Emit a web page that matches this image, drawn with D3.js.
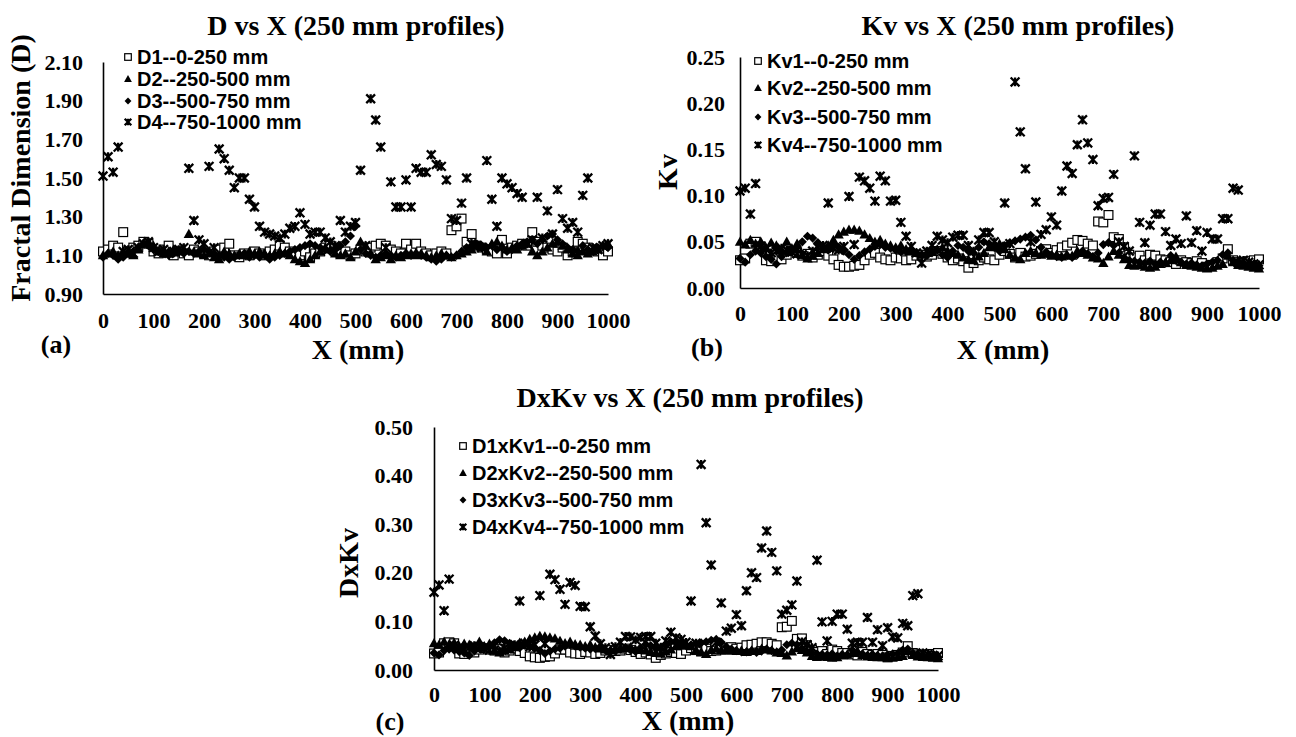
<!DOCTYPE html>
<html><head><meta charset="utf-8">
<script src="https://cdn.jsdelivr.net/npm/d3@7"></script>
<style>body{margin:0;background:#fff}svg{display:block}</style>
</head><body>
<svg id="chart" width="1296" height="737"></svg>
<script>
const xValues = [0,10,20,30,40,50,60,70,80,90,100,110,120,130,140,150,160,170,180,190,200,210,220,230,240,250,260,270,280,290,300,310,320,330,340,350,360,370,380,390,400,410,420,430,440,450,460,470,480,490,500,510,520,530,540,550,560,570,580,590,600,610,620,630,640,650,660,670,680,690,700,710,720,730,740,750,760,770,780,790,800,810,820,830,840,850,860,870,880,890,900,910,920,930,940,950,960,970,980,990,1000];
const xTicks = [0,100,200,300,400,500,600,700,800,900,1000];

// Panel (a) Fractal dimension
const D1 = [1.12,1.13,1.15,1.14,1.22,1.12,1.14,1.15,1.17,1.16,1.12,1.11,1.13,1.15,1.10,1.12,1.11,1.10,1.13,1.12,1.11,1.10,1.12,1.13,1.14,1.16,1.10,1.09,1.11,1.10,1.12,1.11,1.10,1.12,1.13,1.15,1.14,1.12,1.11,1.10,1.12,1.09,1.11,1.12,1.14,1.15,1.12,1.11,1.12,1.10,1.11,1.13,1.12,1.14,1.15,1.16,1.15,1.13,1.12,1.11,1.16,1.13,1.16,1.12,1.11,1.10,1.11,1.12,1.11,1.23,1.25,1.29,1.17,1.21,1.15,1.14,1.13,1.12,1.11,1.18,1.11,1.14,1.15,1.16,1.15,1.22,1.17,1.15,1.14,1.13,1.12,1.14,1.10,1.12,1.17,1.16,1.14,1.13,1.12,1.10,1.12];
const D2 = [1.10,1.11,1.12,1.10,1.12,1.11,1.10,1.13,1.16,1.17,1.15,1.12,1.11,1.12,1.13,1.12,1.13,1.21,1.12,1.11,1.10,1.11,1.09,1.08,1.12,1.11,1.10,1.11,1.10,1.12,1.11,1.12,1.11,1.10,1.11,1.12,1.11,1.10,1.08,1.07,1.06,1.08,1.10,1.12,1.14,1.13,1.11,1.10,1.11,1.09,1.12,1.17,1.15,1.11,1.08,1.09,1.10,1.08,1.10,1.09,1.10,1.11,1.10,1.11,1.10,1.09,1.10,1.11,1.10,1.09,1.10,1.11,1.12,1.13,1.15,1.14,1.12,1.16,1.17,1.15,1.13,1.14,1.13,1.15,1.16,1.12,1.10,1.12,1.14,1.16,1.17,1.15,1.13,1.11,1.10,1.12,1.11,1.12,1.13,1.15,1.16];
const D3 = [1.09,1.11,1.10,1.08,1.09,1.11,1.12,1.14,1.16,1.15,1.13,1.12,1.11,1.10,1.11,1.12,1.11,1.12,1.11,1.12,1.13,1.12,1.11,1.10,1.09,1.08,1.09,1.10,1.11,1.09,1.10,1.09,1.10,1.08,1.09,1.10,1.11,1.12,1.13,1.14,1.15,1.16,1.15,1.14,1.13,1.12,1.13,1.15,1.17,1.20,1.25,1.13,1.11,1.10,1.09,1.10,1.11,1.10,1.09,1.10,1.11,1.10,1.11,1.10,1.09,1.08,1.07,1.08,1.10,1.09,1.10,1.12,1.14,1.15,1.16,1.15,1.14,1.15,1.13,1.14,1.12,1.13,1.15,1.16,1.17,1.18,1.16,1.18,1.20,1.21,1.18,1.16,1.14,1.13,1.12,1.15,1.13,1.12,1.14,1.15,1.14];
const D4 = [1.51,1.61,1.53,1.66,1.12,1.13,1.11,1.14,1.16,1.17,1.14,1.12,1.13,1.11,1.12,1.13,1.14,1.55,1.28,1.18,1.16,1.56,1.14,1.65,1.60,1.54,1.45,1.50,1.50,1.39,1.35,1.25,1.22,1.21,1.20,1.19,1.21,1.24,1.25,1.32,1.26,1.21,1.22,1.22,1.19,1.17,1.15,1.28,1.22,1.25,1.27,1.54,1.15,1.91,1.80,1.66,1.14,1.48,1.35,1.35,1.49,1.35,1.55,1.53,1.53,1.62,1.57,1.56,1.49,1.29,1.28,1.37,1.50,1.16,1.15,1.14,1.59,1.39,1.25,1.50,1.47,1.45,1.42,1.40,1.16,1.18,1.40,1.19,1.33,1.21,1.44,1.29,1.24,1.27,1.22,1.41,1.50,1.14,1.13,1.15,1.16];
const dTicks = [0.90,1.10,1.30,1.50,1.70,1.90,2.10];

// Panel (b) Kv
const Kv1 = [0.030,0.032,0.048,0.050,0.045,0.030,0.029,0.033,0.031,0.036,0.040,0.038,0.035,0.037,0.033,0.036,0.040,0.035,0.031,0.025,0.023,0.023,0.024,0.025,0.030,0.036,0.038,0.033,0.031,0.030,0.033,0.032,0.030,0.031,0.035,0.036,0.034,0.036,0.040,0.037,0.033,0.030,0.032,0.029,0.022,0.027,0.030,0.033,0.031,0.030,0.036,0.040,0.037,0.033,0.038,0.034,0.035,0.037,0.040,0.042,0.038,0.041,0.044,0.046,0.049,0.052,0.051,0.048,0.046,0.072,0.071,0.079,0.055,0.053,0.044,0.036,0.033,0.035,0.030,0.036,0.035,0.031,0.030,0.028,0.026,0.030,0.028,0.027,0.029,0.027,0.023,0.025,0.028,0.032,0.042,0.030,0.028,0.027,0.029,0.030,0.031];
const Kv2 = [0.050,0.047,0.052,0.048,0.050,0.044,0.049,0.046,0.041,0.050,0.043,0.048,0.036,0.032,0.035,0.038,0.042,0.046,0.052,0.058,0.061,0.063,0.063,0.062,0.058,0.054,0.050,0.052,0.048,0.046,0.044,0.046,0.042,0.040,0.038,0.036,0.038,0.040,0.042,0.044,0.040,0.038,0.036,0.033,0.031,0.030,0.034,0.038,0.044,0.046,0.048,0.042,0.036,0.033,0.031,0.038,0.040,0.038,0.036,0.037,0.035,0.036,0.034,0.036,0.035,0.040,0.038,0.036,0.033,0.032,0.027,0.034,0.040,0.036,0.031,0.025,0.024,0.025,0.023,0.022,0.023,0.026,0.028,0.030,0.034,0.028,0.025,0.024,0.023,0.022,0.021,0.022,0.024,0.026,0.035,0.028,0.025,0.024,0.023,0.022,0.021];
const Kv3 = [0.032,0.028,0.036,0.040,0.038,0.034,0.031,0.026,0.034,0.038,0.040,0.044,0.050,0.056,0.054,0.049,0.045,0.041,0.046,0.044,0.040,0.036,0.031,0.035,0.039,0.042,0.045,0.047,0.044,0.043,0.041,0.039,0.040,0.042,0.038,0.036,0.035,0.038,0.041,0.036,0.033,0.040,0.046,0.044,0.040,0.038,0.044,0.050,0.048,0.044,0.040,0.046,0.049,0.051,0.053,0.055,0.057,0.052,0.044,0.039,0.036,0.034,0.033,0.035,0.033,0.036,0.040,0.037,0.034,0.038,0.047,0.049,0.046,0.038,0.033,0.030,0.029,0.028,0.027,0.029,0.026,0.028,0.027,0.035,0.030,0.028,0.026,0.027,0.025,0.024,0.026,0.028,0.030,0.036,0.038,0.030,0.029,0.027,0.026,0.025,0.024];
const Kv4 = [0.105,0.108,0.080,0.113,0.045,0.042,0.038,0.040,0.043,0.041,0.039,0.037,0.036,0.035,0.040,0.044,0.046,0.092,0.043,0.041,0.045,0.099,0.047,0.120,0.116,0.108,0.094,0.121,0.116,0.094,0.095,0.071,0.056,0.045,0.038,0.027,0.040,0.046,0.056,0.052,0.049,0.055,0.057,0.057,0.046,0.040,0.052,0.060,0.060,0.050,0.045,0.092,0.048,0.223,0.169,0.129,0.050,0.093,0.058,0.063,0.077,0.068,0.105,0.132,0.124,0.155,0.182,0.157,0.139,0.089,0.097,0.098,0.123,0.050,0.045,0.040,0.143,0.071,0.049,0.068,0.080,0.080,0.061,0.046,0.053,0.048,0.078,0.049,0.062,0.040,0.060,0.053,0.053,0.075,0.075,0.108,0.106,0.030,0.028,0.026,0.025];
const kvTicks = [0.00,0.05,0.10,0.15,0.20,0.25];

// Panel (c) D x Kv
const DK1 = [0.034,0.036,0.055,0.057,0.055,0.034,0.033,0.038,0.036,0.042,0.045,0.042,0.040,0.043,0.036,0.040,0.044,0.039,0.035,0.028,0.026,0.025,0.027,0.028,0.034,0.042,0.042,0.036,0.034,0.033,0.037,0.036,0.033,0.035,0.040,0.041,0.039,0.040,0.044,0.041,0.037,0.033,0.036,0.032,0.025,0.031,0.034,0.037,0.035,0.033,0.040,0.045,0.041,0.038,0.044,0.039,0.040,0.042,0.045,0.047,0.044,0.046,0.051,0.052,0.054,0.057,0.057,0.054,0.051,0.088,0.089,0.101,0.064,0.065,0.051,0.041,0.037,0.039,0.033,0.042,0.039,0.035,0.035,0.032,0.030,0.037,0.033,0.031,0.033,0.031,0.026,0.029,0.031,0.036,0.049,0.035,0.032,0.031,0.032,0.033,0.035];
const DK2 = [0.055,0.052,0.058,0.053,0.056,0.049,0.054,0.052,0.048,0.058,0.049,0.054,0.040,0.036,0.040,0.043,0.047,0.056,0.058,0.064,0.067,0.070,0.069,0.067,0.065,0.060,0.055,0.058,0.053,0.052,0.049,0.052,0.047,0.044,0.042,0.040,0.042,0.044,0.045,0.047,0.042,0.041,0.040,0.037,0.035,0.034,0.038,0.042,0.049,0.050,0.054,0.049,0.041,0.037,0.033,0.041,0.044,0.041,0.040,0.040,0.039,0.040,0.037,0.040,0.039,0.044,0.042,0.040,0.036,0.035,0.030,0.038,0.045,0.041,0.036,0.029,0.027,0.029,0.027,0.025,0.026,0.030,0.032,0.035,0.039,0.031,0.028,0.027,0.026,0.026,0.025,0.025,0.027,0.029,0.039,0.031,0.028,0.027,0.026,0.025,0.024];
const DK3 = [0.035,0.031,0.040,0.043,0.041,0.038,0.035,0.030,0.039,0.044,0.045,0.049,0.056,0.062,0.060,0.055,0.050,0.046,0.051,0.049,0.045,0.040,0.034,0.039,0.043,0.045,0.049,0.052,0.049,0.047,0.045,0.043,0.044,0.045,0.041,0.040,0.039,0.043,0.046,0.041,0.038,0.046,0.053,0.050,0.045,0.043,0.050,0.058,0.056,0.053,0.050,0.052,0.054,0.056,0.058,0.061,0.063,0.057,0.048,0.043,0.040,0.037,0.037,0.039,0.036,0.039,0.043,0.040,0.037,0.041,0.052,0.055,0.052,0.044,0.038,0.035,0.033,0.032,0.031,0.033,0.029,0.032,0.031,0.041,0.035,0.033,0.030,0.032,0.030,0.029,0.031,0.033,0.034,0.041,0.043,0.035,0.033,0.030,0.030,0.029,0.027];
const DK4 = [0.160,0.175,0.122,0.187,0.050,0.047,0.042,0.046,0.050,0.048,0.044,0.041,0.041,0.039,0.045,0.050,0.052,0.142,0.055,0.048,0.052,0.153,0.054,0.197,0.186,0.166,0.135,0.180,0.174,0.131,0.130,0.089,0.070,0.054,0.046,0.032,0.048,0.057,0.069,0.068,0.062,0.067,0.069,0.069,0.055,0.047,0.060,0.078,0.066,0.063,0.057,0.142,0.055,0.423,0.303,0.216,0.057,0.138,0.080,0.086,0.114,0.091,0.163,0.200,0.190,0.251,0.286,0.242,0.204,0.115,0.123,0.134,0.183,0.058,0.052,0.046,0.226,0.099,0.060,0.100,0.115,0.115,0.084,0.055,0.057,0.057,0.108,0.057,0.083,0.050,0.087,0.068,0.066,0.096,0.091,0.153,0.157,0.035,0.032,0.030,0.029];
const dkTicks = [0.00,0.10,0.20,0.30,0.40,0.50];

const labelsA = ["D1--0-250 mm","D2--250-500 mm","D3--500-750 mm","D4--750-1000 mm"];
const labelsB = ["Kv1--0-250 mm","Kv2--250-500 mm","Kv3--500-750 mm","Kv4--750-1000 mm"];
const labelsC = ["D1xKv1--0-250 mm","D2xKv2--250-500 mm","D3xKv3--500-750 mm","D4xKv4--750-1000 mm"];
const shapes = ["square","triangle","diamond","star"];

const svg = d3.select("#chart");
svg.append("rect").attr("width",1296).attr("height",737).attr("fill","#fff");
const SERIF = "'Liberation Serif','Times New Roman',serif";
const SANS = "'Liberation Sans',Arial,sans-serif";

function drawMarker(g, shape, k) {
  k = k || 1;
  if (shape === "square") {
    g.append("rect").attr("x",-4.4*k).attr("y",-4.4*k).attr("width",8.8*k).attr("height",8.8*k)
      .attr("fill","#fff").attr("stroke","#000").attr("stroke-width",1.2);
  } else if (shape === "triangle") {
    g.append("path").attr("d",`M0,${-5.2*k}L${5.2*k},${4*k}L${-5.2*k},${4*k}Z`).attr("fill","#000");
  } else if (shape === "diamond") {
    g.append("path").attr("d",`M0,${-4.6*k}L${4.6*k},0L0,${4.6*k}L${-4.6*k},0Z`).attr("fill","#000");
  } else {
    const s = 4.4*k;
    g.append("path").attr("d",`M${-s},${-s}L${s},${s}M${-s},${s}L${s},${-s}M0,${-s}L0,${s}`)
      .attr("stroke","#000").attr("stroke-width",2.3).attr("fill","none");
  }
}

function panel(c) {
  const x = d3.scaleLinear().domain([0,1000]).range([c.x0,c.x1]);
  const y = d3.scaleLinear().domain(c.yDomain).range([c.yBot,c.yTop]);
  const g = svg.append("g");
  const yAx = g.append("g").attr("transform",`translate(${c.x0},0)`)
    .call(d3.axisLeft(y).tickValues(c.yTicks).tickFormat(d3.format(".2f")).tickSize(0).tickPadding(c.yPad));
  const xAx = g.append("g").attr("transform",`translate(0,${c.yBot})`)
    .call(d3.axisBottom(x).tickValues(xTicks).tickFormat(d3.format("d")).tickSize(0).tickPadding(c.xPad));
  [yAx,xAx].forEach(a=>{
    a.select(".domain").attr("stroke","#000").attr("stroke-width",1.6);
    a.selectAll("text").attr("font-family",SERIF).attr("font-weight","bold").attr("font-size",22).attr("fill","#000");
  });
  c.series.forEach((vals,i)=>{
    const sg = g.append("g");
    xValues.forEach((xv,j)=>{
      const m = sg.append("g").attr("transform",`translate(${x(xv)},${y(vals[j])})`);
      drawMarker(m, shapes[i]);
    });
  });
  c.labels.forEach((lab,i)=>{
    const ly = c.legY[i];
    const m = g.append("g").attr("transform",`translate(${c.legX},${ly})`);
    drawMarker(m, shapes[i], 0.75);
    g.append("text").attr("x",c.legX+9).attr("y",ly).attr("dominant-baseline","central")
      .attr("font-family",SANS).attr("font-weight","bold").attr("font-size",20).attr("fill","#000").text(lab);
  });
  g.append("text").attr("x",c.titleX).attr("y",c.titleY).attr("text-anchor","middle").attr("dominant-baseline","central")
    .attr("font-family",SERIF).attr("font-weight","bold").attr("font-size",28).text(c.title);
  g.append("text").attr("transform",`translate(${c.yTitleX},${c.yTitleY}) rotate(-90)`).attr("text-anchor","middle")
    .attr("dominant-baseline","central").attr("font-family",SERIF).attr("font-weight","bold").attr("font-size",28).text(c.yTitle);
  g.append("text").attr("x",c.xTitleX).attr("y",c.xTitleY).attr("text-anchor","middle").attr("dominant-baseline","central")
    .attr("font-family",SERIF).attr("font-weight","bold").attr("font-size",28).text("X (mm)");
  g.append("text").attr("x",c.tagX).attr("y",c.tagY).attr("text-anchor","middle").attr("dominant-baseline","central")
    .attr("font-family",SERIF).attr("font-weight","bold").attr("font-size",26).text(c.tag);
}

panel({x0:103,x1:608,yTop:62,yBot:294,yDomain:[0.9,2.1],yTicks:dTicks,yPad:20,xPad:18,
  series:[D1,D2,D3,D4],labels:labelsA,legX:128,legY:[57,79,101,122],
  title:"D vs X (250 mm profiles)",titleX:356,titleY:25,
  yTitle:"Fractal Dimension (D)",yTitleX:20,yTitleY:168,xTitleX:358,xTitleY:349,tag:"(a)",tagX:56,tagY:344});
panel({x0:740,x1:1259,yTop:57,yBot:288,yDomain:[0,0.25],yTicks:kvTicks,yPad:15,xPad:17,
  series:[Kv1,Kv2,Kv3,Kv4],labels:labelsB,legX:758,legY:[61,88,117,145],
  title:"Kv vs X (250 mm profiles)",titleX:1018,titleY:25,
  yTitle:"Kv",yTitleX:667,yTitleY:172,xTitleX:1003,xTitleY:349,tag:"(b)",tagX:707,tagY:347});
panel({x0:434,x1:938,yTop:427,yBot:670,yDomain:[0,0.5],yTicks:dkTicks,yPad:21,xPad:16,
  series:[DK1,DK2,DK3,DK4],labels:labelsC,legX:463,legY:[446,473,500,527],
  title:"DxKv vs X (250 mm profiles)",titleX:690,titleY:397,
  yTitle:"DxKv",yTitleX:348,yTitleY:563,xTitleX:688,xTitleY:720,tag:"(c)",tagX:390,tagY:721});
</script>
</body></html>
